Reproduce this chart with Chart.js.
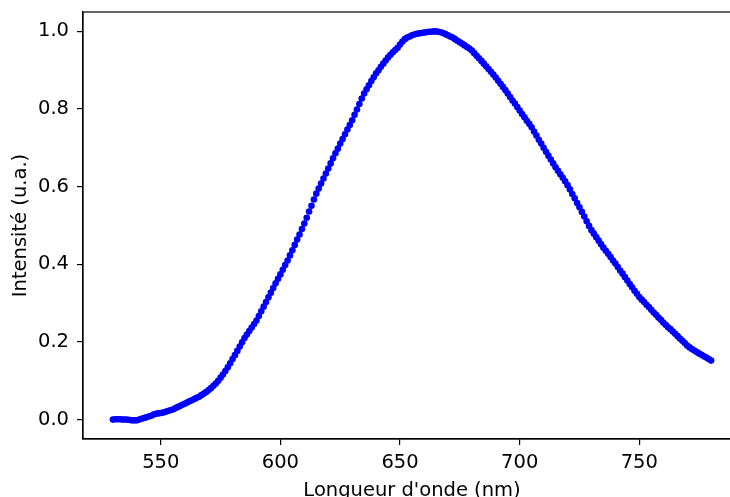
<!DOCTYPE html>
<html>
<head>
<meta charset="utf-8">
<script src="https://cdn.jsdelivr.net/npm/chart.js@4/dist/chart.umd.min.js"></script>
<style>
  html, body { margin: 0; padding: 0; background: #fff; overflow: hidden; }
  #wrap { width: 745px; height: 505px; }
</style>
</head>
<body>
<div id="wrap"><canvas id="spectre" width="745" height="505"></canvas></div>
<script>
// longueurs d'onde (nm), pas de 1 nm
const longueurs = [
  530, 531, 532, 533, 534, 535, 536, 537, 538, 539, 540, 541, 542, 543, 544, 545, 546, 547, 548, 549,
  550, 551, 552, 553, 554, 555, 556, 557, 558, 559, 560, 561, 562, 563, 564, 565, 566, 567, 568, 569,
  570, 571, 572, 573, 574, 575, 576, 577, 578, 579, 580, 581, 582, 583, 584, 585, 586, 587, 588, 589,
  590, 591, 592, 593, 594, 595, 596, 597, 598, 599, 600, 601, 602, 603, 604, 605, 606, 607, 608, 609,
  610, 611, 612, 613, 614, 615, 616, 617, 618, 619, 620, 621, 622, 623, 624, 625, 626, 627, 628, 629,
  630, 631, 632, 633, 634, 635, 636, 637, 638, 639, 640, 641, 642, 643, 644, 645, 646, 647, 648, 649,
  650, 651, 652, 653, 654, 655, 656, 657, 658, 659, 660, 661, 662, 663, 664, 665, 666, 667, 668, 669,
  670, 671, 672, 673, 674, 675, 676, 677, 678, 679, 680, 681, 682, 683, 684, 685, 686, 687, 688, 689,
  690, 691, 692, 693, 694, 695, 696, 697, 698, 699, 700, 701, 702, 703, 704, 705, 706, 707, 708, 709,
  710, 711, 712, 713, 714, 715, 716, 717, 718, 719, 720, 721, 722, 723, 724, 725, 726, 727, 728, 729,
  730, 731, 732, 733, 734, 735, 736, 737, 738, 739, 740, 741, 742, 743, 744, 745, 746, 747, 748, 749,
  750, 751, 752, 753, 754, 755, 756, 757, 758, 759, 760, 761, 762, 763, 764, 765, 766, 767, 768, 769,
  770, 771, 772, 773, 774, 775, 776, 777, 778, 779, 780
];

// intensité normalisée (u.a.)
const intensites = [
  0.000, 0.001, 0.001, 0.001, 0.000, 0.000, 0.000, -0.001, -0.002, -0.002, -0.002, 0.000, 0.002, 0.004, 0.006, 0.008, 0.010, 0.013, 0.015, 0.016,
  0.017, 0.018, 0.020, 0.022, 0.024, 0.026, 0.029, 0.032, 0.035, 0.038, 0.041, 0.044, 0.047, 0.050, 0.053, 0.056, 0.059, 0.063, 0.067, 0.071,
  0.076, 0.081, 0.087, 0.093, 0.100, 0.108, 0.116, 0.125, 0.135, 0.145, 0.156, 0.166, 0.177, 0.188, 0.199, 0.210, 0.219, 0.228, 0.237, 0.246,
  0.255, 0.267, 0.279, 0.291, 0.303, 0.315, 0.327, 0.339, 0.351, 0.363, 0.374, 0.386, 0.398, 0.410, 0.423, 0.436, 0.450, 0.464, 0.477, 0.491,
  0.505, 0.520, 0.536, 0.551, 0.567, 0.582, 0.595, 0.608, 0.621, 0.634, 0.647, 0.660, 0.673, 0.686, 0.698, 0.711, 0.723, 0.735, 0.747, 0.759,
  0.771, 0.785, 0.799, 0.813, 0.827, 0.840, 0.851, 0.861, 0.872, 0.882, 0.892, 0.900, 0.909, 0.917, 0.925, 0.933, 0.940, 0.946, 0.952, 0.958,
  0.966, 0.974, 0.980, 0.984, 0.987, 0.990, 0.992, 0.994, 0.995, 0.996, 0.997, 0.998, 0.999, 0.999, 1.000, 1.000, 0.999, 0.998, 0.996, 0.993,
  0.990, 0.987, 0.984, 0.980, 0.976, 0.972, 0.968, 0.964, 0.960, 0.956, 0.951, 0.944, 0.937, 0.931, 0.924, 0.917, 0.910, 0.903, 0.896, 0.889,
  0.881, 0.873, 0.865, 0.857, 0.849, 0.840, 0.831, 0.822, 0.814, 0.805, 0.796, 0.787, 0.779, 0.770, 0.762, 0.753, 0.742, 0.732, 0.721, 0.711,
  0.700, 0.690, 0.680, 0.670, 0.660, 0.650, 0.641, 0.632, 0.623, 0.614, 0.604, 0.593, 0.581, 0.570, 0.558, 0.547, 0.535, 0.523, 0.511, 0.499,
  0.488, 0.479, 0.470, 0.461, 0.452, 0.443, 0.435, 0.427, 0.419, 0.410, 0.402, 0.393, 0.384, 0.376, 0.367, 0.358, 0.349, 0.341, 0.332, 0.324,
  0.316, 0.309, 0.303, 0.296, 0.290, 0.283, 0.276, 0.270, 0.263, 0.257, 0.250, 0.244, 0.238, 0.233, 0.227, 0.221, 0.215, 0.209, 0.203, 0.197,
  0.191, 0.186, 0.182, 0.178, 0.174, 0.170, 0.167, 0.163, 0.160, 0.156, 0.152
];

const ticksX = [550, 600, 650, 700, 750];
const ticksY = [0.0, 0.2, 0.4, 0.6, 0.8, 1.0];

const police = "'DejaVu Sans', sans-serif";
const noir = "#000000";

// cadre complet autour de la zone de tracé (style matplotlib)
const cadre = {
  id: "cadre",
  afterDraw(chart) {
    const { ctx, chartArea: a } = chart;
    ctx.save();
    ctx.strokeStyle = noir;
    ctx.lineWidth = 1.2;
    ctx.strokeRect(a.left, a.top, a.right - a.left, a.bottom - a.top);
    ctx.restore();
  }
};

const points = longueurs.map((x, i) => ({ x, y: intensites[i] }));

new Chart(document.getElementById("spectre"), {
  type: "scatter",
  data: {
    datasets: [{
      data: points,
      backgroundColor: "#0000ff",
      borderWidth: 0,
      pointRadius: 3.3,
      pointHoverRadius: 3.3
    }]
  },
  options: {
    responsive: false,
    animation: false,
    events: [],
    layout: { padding: { top: 12, right: 4, left: 0, bottom: 0 } },
    plugins: { legend: { display: false }, tooltip: { enabled: false } },
    scales: {
      x: {
        type: "linear",
        min: 517.5,
        max: 792.5,
        afterBuildTicks: s => { s.ticks = ticksX.map(v => ({ value: v })); },
        afterFit: s => { s.height = 66; s.paddingLeft = 0; s.paddingRight = 0; },
        grid: { drawOnChartArea: false, drawTicks: true, tickLength: 6, color: noir, lineWidth: 1.2 },
        border: { display: true, color: noir, width: 1.2 },
        ticks: { color: noir, padding: 6, font: { family: police, size: 19.5 }, callback: v => String(v) },
        title: { display: true, text: "Longueur d'onde (nm)", color: noir, font: { family: police, size: 19.5 }, padding: { top: 0, bottom: 2 } }
      },
      y: {
        min: -0.05,
        max: 1.05,
        afterBuildTicks: s => { s.ticks = ticksY.map(v => ({ value: v })); },
        afterFit: s => { s.width = 83; s.paddingTop = 0; s.paddingBottom = 0; },
        grid: { drawOnChartArea: false, drawTicks: true, tickLength: 6, color: noir, lineWidth: 1.2 },
        border: { display: true, color: noir, width: 1.2 },
        ticks: { color: noir, padding: 8, font: { family: police, size: 19.5 }, callback: v => v.toFixed(1) },
        title: { display: true, text: "Intensité (u.a.)", color: noir, font: { family: police, size: 19.5 }, padding: { top: 9, bottom: 0 } }
      }
    }
  },
  plugins: [cadre]
});
</script>
</body>
</html>
